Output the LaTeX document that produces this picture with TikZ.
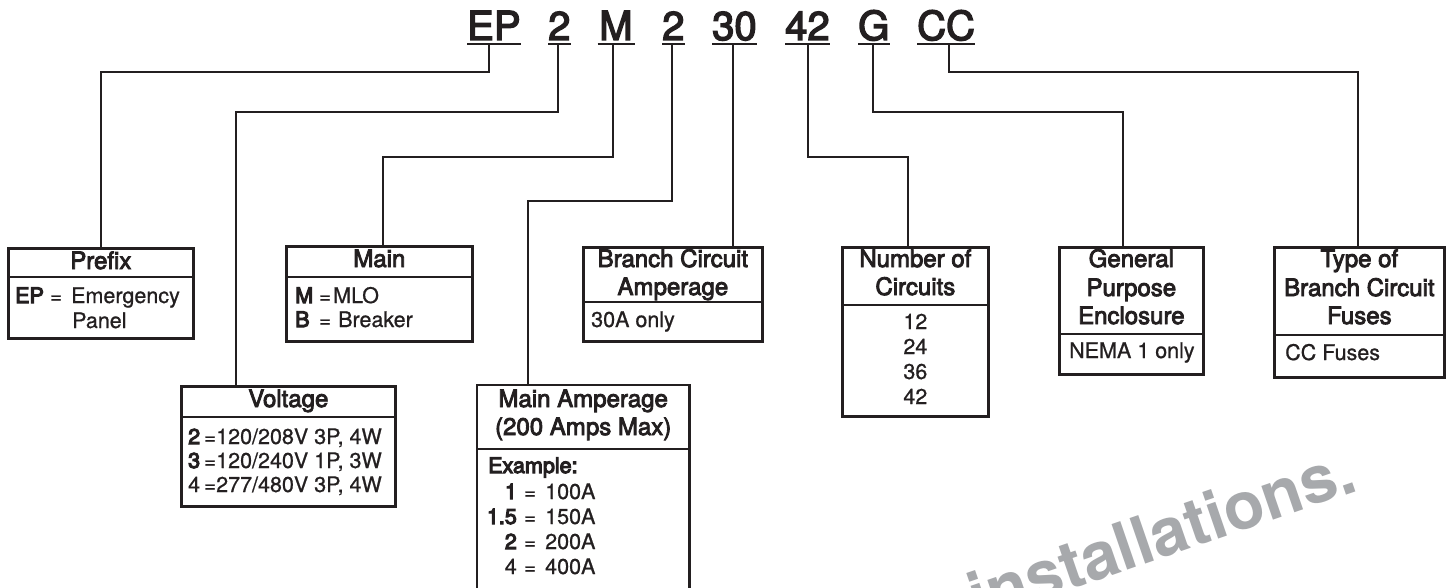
\documentclass[tikz,border=0pt]{standalone}
\usepackage{fontspec}
\setmainfont{TeX Gyre Heros}
\newfontfamily\medf[FakeBold=3.5]{TeX Gyre Heros}
\newfontfamily\keyf[FakeBold=5]{TeX Gyre Heros}
\newfontfamily\bodyf[FakeBold=0.8]{TeX Gyre Heros}
\newfontfamily\codef[FakeBold=3.5]{TeX Gyre Heros}
\usetikzlibrary{calc}
\definecolor{ink}{HTML}{231F20}
\definecolor{wm}{HTML}{A7A9AC}
\tikzset{
  box/.style={draw=ink, line width=2.7pt, inner sep=0pt, anchor=north west},
  conn/.style={draw=ink, line width=2.4pt},
  uline/.style={draw=ink, line width=2.2pt},
  hdr/.style={anchor=base, inner sep=0pt, font=\medf\fontsize{24}{24}\selectfont, text=ink},
  bodyt/.style={anchor=base west, inner sep=0pt, font=\bodyf\fontsize{21.5}{21.5}\selectfont, text=ink},
  eqt/.style={anchor=base west, inner sep=0pt, font=\bodyf\fontsize{20}{20}\selectfont, text=ink},
  keyt/.style={anchor=base west, inner sep=0pt, font=\keyf\fontsize{21.5}{21.5}\selectfont, text=ink},
  code/.style={anchor=base west, inner xsep=0pt, inner ysep=4pt, text depth=0pt, font=\codef\fontsize{40}{40}\selectfont, text=ink},
}
\begin{document}
\begin{tikzpicture}[x=1pt,y=-1pt]
\useasboundingbox[fill=white] (0,0) rectangle (1450,588);

% ---- code line ----
\node[code] (cEP) at (467,40) {EP};
\node[code] (c2a) at (548,40) {2};
\node[code] (cM)  at (599,40) {M};
\node[code] (c2b) at (662,40) {2};
\node[code] (c30) at (712,40) {30};
\node[code] (c42) at (785,40) {42};
\node[code] (cG)  at (858,40) {G};
\node[code] (cCC) at (917,40) {CC};
\foreach \n in {cEP,c2a,c2b,c30,c42,cG,cCC}
  \draw[uline] (\n.south west) -- (\n.south east);
\draw[uline] ([xshift=-1.5pt]cM.south west) -- ([xshift=2.5pt]cM.south east);

% ---- boxes ----
\node[box, minimum width=185pt, minimum height=90pt]  (prefix) at (7,247) {};
\node[box, minimum width=214pt, minimum height=120pt] (volt)   at (180,385) {};
\node[box, minimum width=186pt, minimum height=95pt]  (mainb)  at (285,245) {};
\node[anchor=north west, inner sep=0pt, minimum width=212pt, minimum height=203pt] (mamp) at (477,385) {};
\node[box, minimum width=179pt, minimum height=94pt]  (branch) at (582,246) {};
\node[box, minimum width=146pt, minimum height=169pt] (numc)   at (841,246) {};
\node[box, minimum width=144pt, minimum height=127pt] (gen)    at (1058,246) {};
\node[box, minimum width=170pt, minimum height=130pt] (typef)  at (1273,246) {};
\draw[box] (mamp.south west) -- (mamp.north west) -- (mamp.north east) -- (mamp.south east);

% dividers
\draw[box] (prefix.west |- 0,277) -- (prefix.east |- 0,277);
\draw[box] (volt.west |- 0,417) -- (volt.east |- 0,417);
\draw[box] (mainb.west |- 0,277) -- (mainb.east |- 0,277);
\draw[box] (mamp.west |- 0,449) -- (mamp.east |- 0,449);
\draw[box] (branch.west |- 0,302) -- (branch.east |- 0,302);
\draw[box] (numc.west |- 0,305) -- (numc.east |- 0,305);
\draw[box] (gen.west |- 0,334) -- (gen.east |- 0,334);
\draw[box] (typef.west |- 0,335) -- (typef.east |- 0,335);

% ---- connectors ----
\coordinate (pPrefix) at ([xshift=94pt]prefix.north west);
\coordinate (pVolt)   at ([xshift=56pt]volt.north west);
\coordinate (pMain)   at ([xshift=98pt]mainb.north west);
\coordinate (pMamp)   at ([xshift=51pt]mamp.north west);
\coordinate (pBranch) at ([xshift=151pt]branch.north west);
\coordinate (pNum)    at ([xshift=67pt]numc.north west);
\coordinate (pGen)    at ([xshift=65pt]gen.north west);
\coordinate (pType)   at ([xshift=85pt]typef.north west);

\draw[conn] ([xshift=22pt]cEP.south west) |- (pPrefix |- 0,72) -- (pPrefix);
\draw[conn] ([xshift=10pt]c2a.south west) |- (pVolt |- 0,112) -- (pVolt);
\draw[conn] ([xshift=14pt]cM.south west)  |- (pMain |- 0,157) -- (pMain);
\draw[conn] ([xshift=10pt]c2b.south west) |- (pMamp |- 0,201) -- (pMamp);
\draw[conn] ([xshift=21pt]c30.south west) -- (pBranch);
\draw[conn] ([xshift=23pt]c42.south west) |- (pNum |- 0,157) -- (pNum);
\draw[conn] ([xshift=15pt]cG.south west)  |- (pGen |- 0,112) -- (pGen);
\draw[conn] ([xshift=32pt]cCC.south west) |- (pType |- 0,72) -- (pType);

% ---- Prefix ----
\node[hdr] (hPrefix) at (prefix.north |- 0,269) {Prefix};
\node[keyt] (kEP) at (15,303) {EP};
\node[eqt] (eEP) at (50,303) {=};
\node[bodyt] (vEP1) at (71,303) {Emergency};
\node[bodyt] (vEP2) at (72,328) {Panel};

% ---- Voltage ----
\node[hdr] (hVolt) at (volt.north |- 0,407) {Voltage};
\node[keyt] (kV2) at (188,444) {2};
\node[eqt] (eV2) at (204,444) {=};
\node[bodyt] (vV2) at (216,444) {120/208V 3P, 4W};
\node[keyt] (kV3) at (188,468) {3};
\node[eqt] (eV3) at (204,468) {=};
\node[bodyt] (vV3) at (216,468) {120/240V 1P, 3W};
\node[bodyt] (kV4) at (188,492) {4};
\node[eqt] (eV4) at (204,492) {=};
\node[bodyt] (vV4) at (216,492) {277/480V 3P, 4W};

% ---- Main ----
\node[hdr] (hMain) at (mainb.north |- 0,267) {Main};
\node[keyt] (kM) at (295,303) {M};
\node[eqt] (eM) at (319,303) {=};
\node[bodyt] (vM) at (333,303) {MLO};
\node[keyt] (kB) at (295,327) {B};
\node[eqt] (eB) at (319,327) {=};
\node[bodyt] (vB) at (338,327) {Breaker};

% ---- Main Amperage ----
\node[hdr] (hMamp1) at (mamp.north |- 0,407) {Main Amperage};
\node[hdr] (hMamp2) at (mamp.north |- 0,435) {(200 Amps Max)};
\node[keyt] (exm) at (488,473) {Example:};
\node[keyt, anchor=base east] (kA1) at (517,499) {1};
\node[eqt] (eA1) at (524,499) {=};
\node[bodyt] (vA1) at (545,499) {100A};
\node[keyt, anchor=base east] (kA2) at (517,524) {1.5};
\node[eqt] (eA2) at (524,524) {=};
\node[bodyt] (vA2) at (545,524) {150A};
\node[keyt, anchor=base east] (kA3) at (517,549) {2};
\node[eqt] (eA3) at (524,549) {=};
\node[bodyt] (vA3) at (545,549) {200A};
\node[bodyt, anchor=base east] (kA4) at (517,574) {4};
\node[eqt] (eA4) at (524,574) {=};
\node[bodyt] (vA4) at (545,574) {400A};

% ---- Branch Circuit Amperage ----
\node[hdr] (hBr1) at (branch.north |- 0,267) {Branch Circuit};
\node[hdr] (hBr2) at (branch.north |- 0,295) {Amperage};
\node[bodyt] (vBr) at (591,327) {30A only};

% ---- Number of Circuits ----
\node[hdr] (hN1) at (numc.north |- 0,267) {Number of};
\node[hdr] (hN2) at (numc.north |- 0,295) {Circuits};
\node[bodyt, anchor=base] (n12) at (numc.north |- 0,329) {12};
\node[bodyt, anchor=base] (n24) at (numc.north |- 0,354) {24};
\node[bodyt, anchor=base] (n36) at (numc.north |- 0,379) {36};
\node[bodyt, anchor=base] (n42) at (numc.north |- 0,404) {42};

% ---- General Purpose Enclosure ----
\node[hdr] (hG1) at (gen.north |- 0,267) {General};
\node[hdr] (hG2) at (gen.north |- 0,296) {Purpose};
\node[hdr] (hG3) at (gen.north |- 0,324) {Enclosure};
\node[bodyt] (vG) at (1069,358) {NEMA 1 only};

% ---- Type of Branch Circuit Fuses ----
\node[hdr] (hT1) at (typef.north |- 0,267) {Type of};
\node[hdr] (hT2) at (typef.north |- 0,296) {Branch Circuit};
\node[hdr] (hT3) at (typef.north |- 0,324) {Fuses};
\node[bodyt] (vT) at (1285,360) {CC Fuses};

% ---- watermark ----
\node[anchor=base east, inner sep=0pt, rotate=19, text=wm, font=\bfseries\fontsize{66}{66}\selectfont] (wmark) at (1360,490) {installations.};
\end{tikzpicture}
\end{document}
